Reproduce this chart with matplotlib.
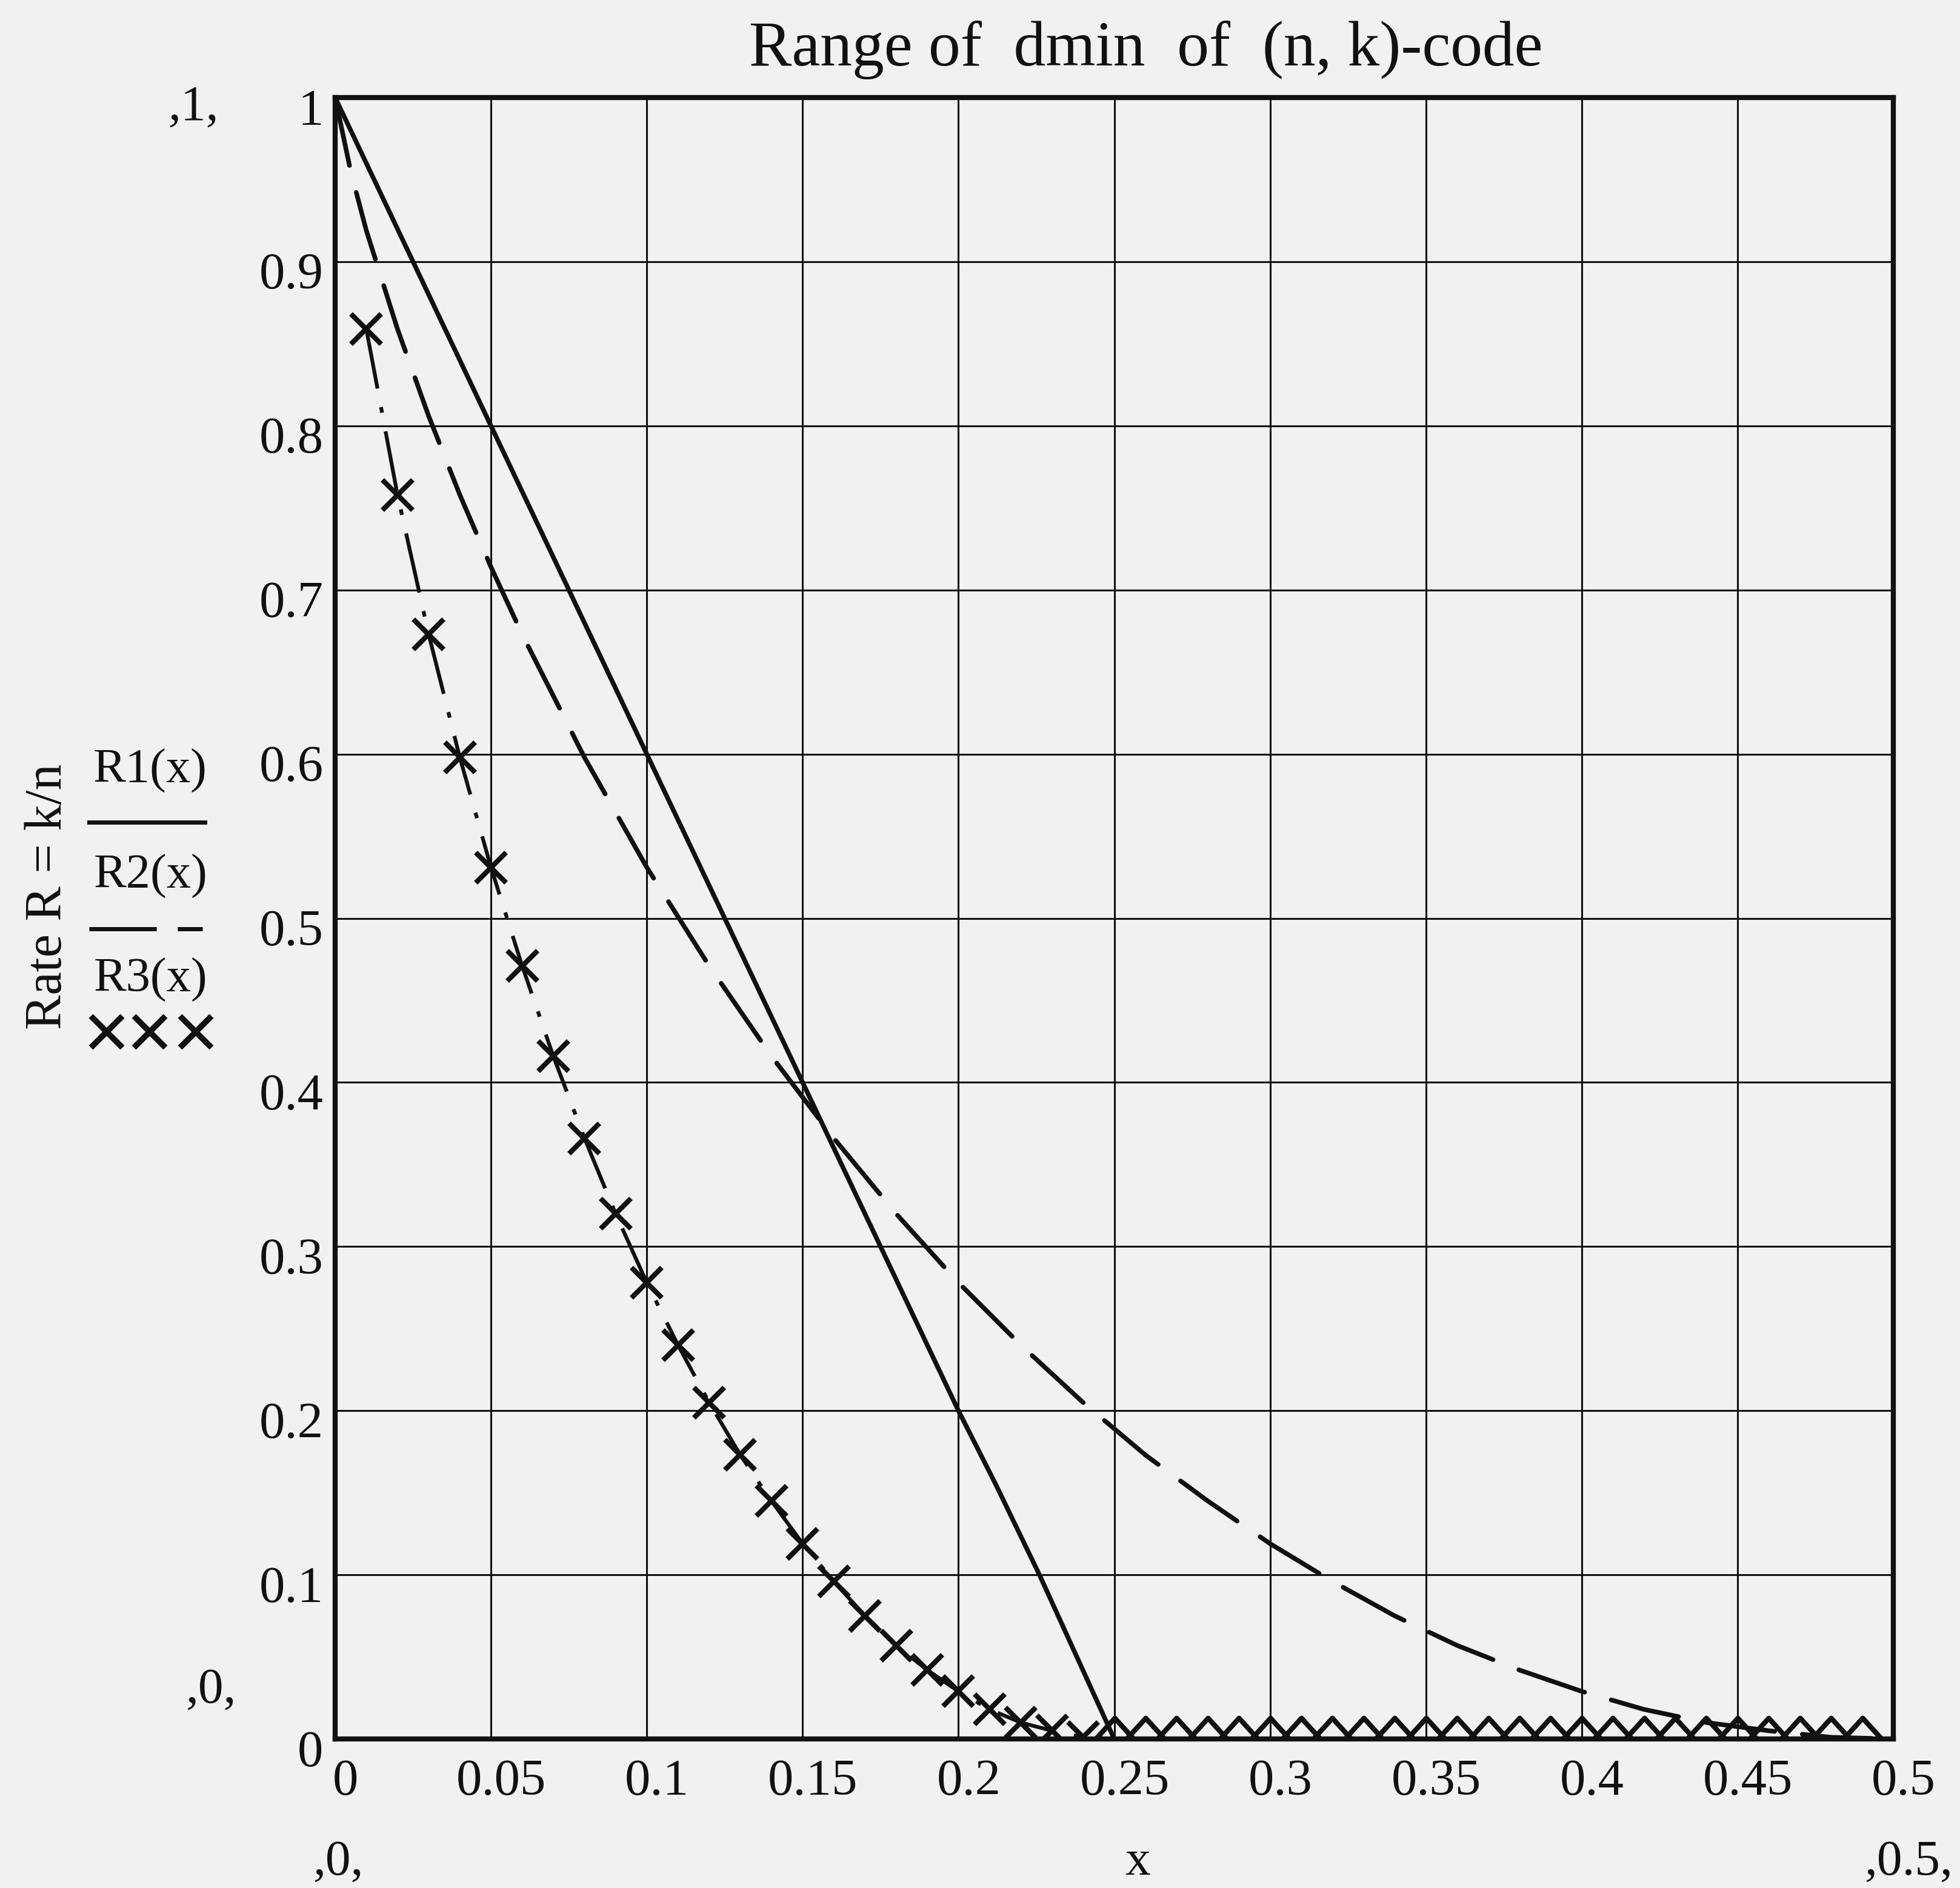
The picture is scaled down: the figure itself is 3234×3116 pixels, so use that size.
import numpy as np
import matplotlib
matplotlib.use('Agg')
import matplotlib.pyplot as plt
from matplotlib.lines import Line2D
from matplotlib.transforms import ScaledTranslation

# R1(x) - solid curve
r1_x = [0.0, 0.025, 0.05, 0.1, 0.15, 0.2, 0.212, 0.226, 0.25]
r1_y = [1.0, 0.9, 0.8, 0.6, 0.4, 0.2, 0.155, 0.1, 0.0]

# R2(x) - dashed curve
r2_x = [0.0, 0.005, 0.01, 0.02, 0.03, 0.04, 0.05, 0.06, 0.08, 0.10, 0.12, 0.14,
        0.16, 0.18, 0.20, 0.22, 0.24, 0.26, 0.28, 0.30, 0.32, 0.34, 0.36,
        0.38, 0.40, 0.42, 0.44, 0.46, 0.48, 0.50]
r2_y = [1.0, 0.955, 0.919, 0.859, 0.806, 0.758, 0.714, 0.673, 0.598, 0.531,
        0.471, 0.416, 0.366, 0.320, 0.278, 0.240, 0.205, 0.173, 0.145, 0.119,
        0.096, 0.075, 0.057, 0.042, 0.029, 0.018, 0.010, 0.005, 0.001, 0.0]

# R3(x) - crosses
r3_x = [0.01, 0.02, 0.03, 0.04, 0.05, 0.06, 0.07, 0.08, 0.09, 0.10,
        0.11, 0.12, 0.13, 0.14, 0.15, 0.16, 0.17, 0.18, 0.19, 0.20,
        0.21, 0.22, 0.23, 0.24, 0.25, 0.26, 0.27, 0.28, 0.29, 0.30,
        0.31, 0.32, 0.33, 0.34, 0.35, 0.36, 0.37, 0.38, 0.39, 0.40,
        0.41, 0.42, 0.43, 0.44, 0.45, 0.46, 0.47, 0.48, 0.49]
r3_y = [0.859, 0.758, 0.673, 0.598, 0.531, 0.471, 0.416, 0.366, 0.320, 0.278,
        0.240, 0.205, 0.173, 0.145, 0.119, 0.096, 0.075, 0.057, 0.042, 0.029,
        0.018, 0.010, 0.005, 0.001, 0.0, 0.0, 0.0, 0.0, 0.0, 0.0,
        0.0, 0.0, 0.0, 0.0, 0.0, 0.0, 0.0, 0.0, 0.0, 0.0,
        0.0, 0.0, 0.0, 0.0, 0.0, 0.0, 0.0, 0.0, 0.0]

x_ticks = [0, 0.05, 0.1, 0.15, 0.2, 0.25, 0.3, 0.35, 0.4, 0.45, 0.5]
x_labels = ['0', '0.05', '0.1', '0.15', '0.2', '0.25', '0.3', '0.35', '0.4', '0.45', '0.5']
y_ticks = [0, 0.1, 0.2, 0.3, 0.4, 0.5, 0.6, 0.7, 0.8, 0.9, 1.0]
y_labels = ['0', '0.1', '0.2', '0.3', '0.4', '0.5', '0.6', '0.7', '0.8', '0.9', '1']

ink = '#111111'
paper = '#f1f1f1'
plt.rcParams['font.family'] = ['Liberation Serif', 'DejaVu Serif']

W, H = 3234, 3116
fig = plt.figure(figsize=(W / 100, H / 100), dpi=100, facecolor=paper)

# axes box in pixels (left, top, right, bottom)
L, T, R, B = 553, 161, 3124, 2870
ax = fig.add_axes([L / W, 1 - B / H, (R - L) / W, (B - T) / H], facecolor=paper)
ax.set_xlim(0, 0.5)
ax.set_ylim(0, 1)
ax.set_xticks(x_ticks)
ax.set_xticklabels(x_labels)
ax.set_yticks(y_ticks)
ax.set_yticklabels(y_labels)
ax.tick_params(length=0, labelsize=61, colors=ink)
ax.tick_params(axis='x', pad=24)
ax.tick_params(axis='y', pad=14)
ax.grid(True, color=ink, lw=2.2)
for s in ax.spines.values():
    s.set_linewidth(6)
    s.set_color(ink)

# Mathcad puts labels a bit below / right of the grid lines
for lbl in ax.get_yticklabels():
    lbl.set_transform(lbl.get_transform() + ScaledTranslation(0, -0.15, fig.dpi_scale_trans))
for lbl in ax.get_xticklabels():
    lbl.set_transform(lbl.get_transform() + ScaledTranslation(0.17, 0, fig.dpi_scale_trans))

# curves
ax.plot(r1_x, r1_y, color=ink, lw=5.5, solid_capstyle='round')
ax.plot(r2_x, r2_y, color=ink, lw=5.5, dashes=(15, 6), dash_capstyle='round')

r3_x = np.array(r3_x)
r3_y = np.array(r3_y)
ax.plot(r3_x, r3_y, color=ink, lw=4.5, dashes=(16, 5, 1.5, 5))
pos = r3_y > 0
ax.plot(r3_x[pos], r3_y[pos], linestyle='none', marker='x', ms=36, mew=6, color=ink)
wedge = [(-1, 0), (0, 1.1), (1, 0)]
ax.plot(r3_x[~pos], r3_y[~pos], linestyle='none', marker=wedge, ms=50,
        mew=6, mfc='none', mec=ink)

# title and outer labels
fig.text(1891 / W, 1 - 82 / H, 'Range of  dmin  of  (n, k)-code',
         fontsize=76, color=ink, ha='center', va='center')
fig.text(80 / W, 1 - 1480 / H, 'Rate R = k/n', rotation=90, fontsize=62,
         color=ink, ha='center', va='center')
fig.text(1877 / W, 1 - 3112 / H, 'x', fontsize=60, color=ink, ha='center', va='bottom')
fig.text(320 / W, 1 - 178 / H, ',1,', fontsize=60, color=ink, ha='center', va='center')
fig.text(348 / W, 1 - 2790 / H, ',0,', fontsize=60, color=ink, ha='center', va='center')
fig.text(558 / W, 1 - 3112 / H, ',0,', fontsize=60, color=ink, ha='center', va='bottom')
fig.text(3150 / W, 1 - 3112 / H, ',0.5,', fontsize=60, color=ink, ha='center', va='bottom')

# legend stack on the left
fig.text(248 / W, 1 - 1272 / H, 'R1(x)', fontsize=58, color=ink, ha='center', va='center')
fig.lines.append(Line2D([147 / W, 338 / W], [1 - 1357 / H] * 2, transform=fig.transFigure,
                        color=ink, lw=5.0))
fig.text(248 / W, 1 - 1446 / H, 'R2(x)', fontsize=58, color=ink, ha='center', va='center')
fig.lines.append(Line2D([147 / W, 334 / W], [1 - 1533 / H] * 2, transform=fig.transFigure,
                        color=ink, lw=5.0, dashes=(16, 5)))
fig.text(248 / W, 1 - 1617 / H, 'R3(x)', fontsize=58, color=ink, ha='center', va='center')
fig.lines.append(Line2D([176 / W, 247 / W, 323 / W], [1 - 1703 / H] * 3,
                        transform=fig.transFigure, linestyle='none', marker='x',
                        ms=38, mew=7, color=ink))

fig.savefig('out.png', dpi=100, facecolor=paper)
